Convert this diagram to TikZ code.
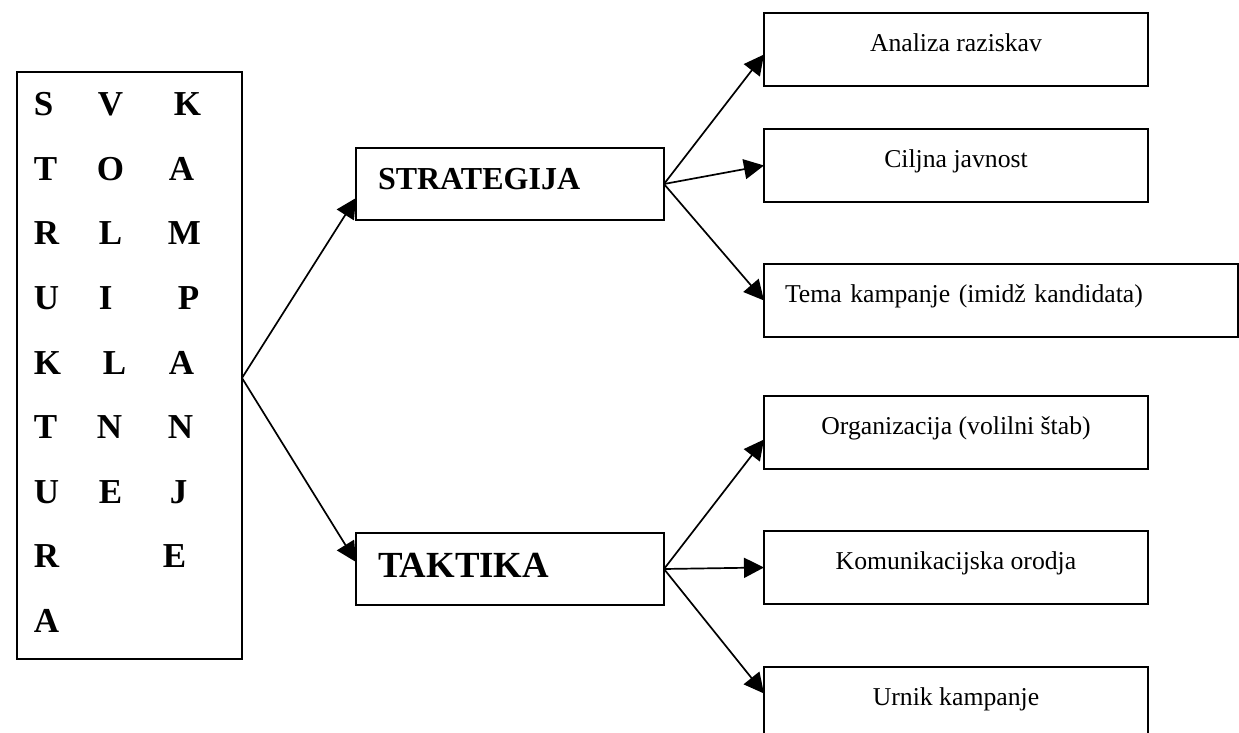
\documentclass[tikz,border=0pt]{standalone}
\usepackage{fontspec}
\setmainfont{Liberation Serif}
\usetikzlibrary{positioning,arrows.meta,calc}

\begin{document}
\begin{tikzpicture}
            [x=0.5pt, y=-0.5pt, line width=0.85pt,
             box/.style = {draw, rectangle, inner sep=0pt, outer sep=0pt, minimum height=36.5pt, line width=1pt},
             item/.style = {box, minimum width=192pt, text height=19.25pt, text depth=17.25pt,
                            font=\fontsize{12.85}{15}\selectfont},
             head/.style = {box, anchor=north west, inner xsep=11pt, text width=132pt, align=left,
                            minimum height=36pt},
             letter/.style = {anchor=base west, inner sep=0pt, font=\fontsize{17.5}{20}\selectfont\bfseries},
             link/.style = {-{Triangle[length=10pt, width=10pt]}}]
            \useasboundingbox (0,0) rectangle (1239,733);
            % levi okvir s crkami
            \node[box, anchor=north west, minimum width=112.5pt, minimum height=293.5pt] (struct) at (17,72) {};
            \foreach \ch/\x/\r [count=\i] in {S/33/0, T/33/1, R/33/2, U/33/3, K/33/4, T/33/5, U/33/6, R/33/7, A/33/8,
                                              V/97/0, O/96/1, L/98/2, I/98/3, L/102/4, N/96/5, E/98/6,
                                              K/173/0, A/168/1, M/167/2, P/177/3, A/168/4, N/167/5, J/169/6, E/162/7}
                \node[letter] (ltr\i) at (\x, {116+64.5*\r}) {\ch};
            \coordinate (split) at ($(struct.east)+(0,12.5)$);
            % sredina
            \node[head, text height=21pt, text depth=15pt, font=\fontsize{16}{19}\selectfont\bfseries] (strat) at (356,148) {STRATEGIJA};
            \node[head, text height=22pt, text depth=14pt, font=\fontsize{18.4}{22}\selectfont\bfseries] (takt) at (356,533) {TAKTIKA};
            % desni stolpec
            \node[item, anchor=north] (analiza) at (956,13) {Analiza raziskav};
            \node[item] (ciljna) [below=21.5pt of analiza] {Ciljna javnost};
            \node[item, minimum width=237pt, inner xsep=10.5pt, text width=216pt, align=left]
                (tema) [below=31pt of ciljna.south west, anchor=north west] {Tema kampanje (imidž kandidata)};
            \node[item] (org) [below=29.5pt of tema.south west, anchor=north west] {Organizacija (volilni štab)};
            \node[item] (kom) [below=31pt of org] {Komunikacijska orodja};
            \node[item] (urnik) [below=31.5pt of kom] {Urnik kampanje};
            \draw[link] (split) -- ($(strat.west)+(0,14)$);
            \draw[link] (split) -- ($(takt.west)+(0,-7)$);
            \draw[link] (strat.east) -- ($(analiza.west)+(0,5)$);
            \draw[link] (strat.east) -- (ciljna.west);
            \draw[link] (strat.east) -- (tema.west);
            \draw[link] (takt.east) -- ($(org.west)+(0,7)$);
            \draw[link] (takt.east) -- (kom.west);
            \draw[link] (takt.east) -- ($(urnik.west)+(0,-10)$);
        \end{tikzpicture}
\end{document}
